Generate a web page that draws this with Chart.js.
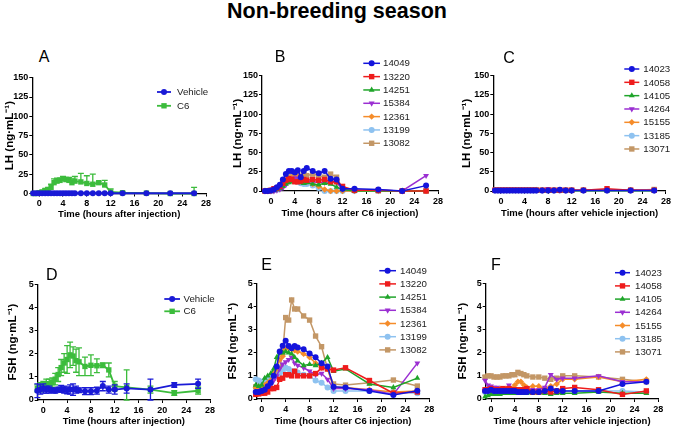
<!DOCTYPE html>
<html>
<head>
<meta charset="utf-8">
<script src="https://cdn.jsdelivr.net/npm/chart.js@4.4.1/dist/chart.umd.min.js"></script>
<style>
    body { margin: 0; background: #fff; }
    #page { position: relative; width: 673px; height: 427px; overflow: hidden; font-family: Arial, 'Liberation Sans', sans-serif; }
    #page canvas { position: absolute; left: 0; top: 0; pointer-events: none; }
    .lbl { position: absolute; transform: translate(-50%, -50%); line-height: 1; white-space: nowrap; color: #000; }
    #title { font-weight: bold; font-size: 21.5px; left: 337px; top: 12px; }
    .letter { font-size: 16px; }
</style>
</head>
<body>
<div id="page">
    <div id="title" class="lbl">Non-breeding season</div>
</div>
<script>
// sampling times (hours after injection)
const hours = [-1, -0.5, 0, 0.5, 1, 1.5, 2, 2.5, 3, 3.5, 4, 4.5, 5, 5.5, 6, 7, 8, 9, 10, 11, 12, 14, 18, 22, 26];
const xTickValues = [0, 4, 8, 12, 16, 20, 24, 28];

// A: LH group means
const lhVehicleMean = [0.3, 0.3, 0.3, 0.3, 0.3, 0.3, 0.3, 0.3, 0.3, 0.3, 0.3, 0.3, 0.3, 0.3, 0.3, 0.3, 0.3, 0.3, 0.3, 0.3, 0.3, 0.3, 0.3, 0.3, 0.3];
const lhVehicleErr  = [0.3, 0.3, 0.3, 0.3, 0.3, 0.3, 0.3, 0.3, 0.3, 0.3, 0.3, 0.3, 0.3, 0.3, 0.3, 0.3, 0.3, 0.3, 0.3, 0.3, 0.3, 0.3, 0.3, 0.3, 0.3];
const lhC6Mean = [0, 0, 1, 2, 4, 5, 8, 14, 16, 17, 19, 18, 17, 14, 16, 15, 13, 12, 14, 11, 2, 1, 0.5, 0, 0];
const lhC6Err  = [0, 0, 1, 2, 2, 3, 4, 5, 4, 3, 3, 3, 4, 5, 6, 11, 10, 13, 1, 6, 4, 1, 0.5, 0, 8];

// B: LH individual ewes, C6
const lhC6_14049 = [0, 0, 0.5, 2, 5, 8, 15, 22, 26, 26, 24, 27, 18, 26, 30, 26, 23, 26, 16, 15, 3, 3, 2, 0, 7];
const lhC6_13220 = [0, 0, 1, 3, 4, 6, 10, 14, 16, 15, 12, 12, 13, 15, 14, 15, 14, 15, 12, 12, 6, 1, 1, 0, 0];
const lhC6_14251 = [0, 0, 0, 1, 2, 4, 6, 9, 11, 12, 12, 12, 11, 10, 11, 9, 8, 10, 9, 5, 2, 0, 0, 0, 0];
const lhC6_15384 = [0, 0, 0, 0, 1, 2, 4, 8, 12, 15, 17, 16, 14, 13, 12, 12, 11, 11, 12, 11, 2, 1, 1, 0, 20];
const lhC6_12361 = [0, 0, 0, 1, 3, 6, 10, 14, 16, 17, 18, 18, 17, 15, 12, 9, 6, 2, 0, 0, 0, 0, 0, 0, 0];
const lhC6_13199 = [0, 0, 0, 1, 2, 4, 8, 12, 15, 14, 13, 12, 10, 9, 9, 7, 4, 0, 0, 0, 0, 0, 0, 0, 0];
const lhC6_13082 = [0, 0, 0, 1, 2, 5, 9, 14, 18, 19, 20, 21, 19, 22, 20, 22, 20, 18, 22, 18, 3, 1, 0, 0, 0];

// C: LH individual ewes, vehicle
const lhVeh_14023 = [0.5, 0.5, 0.5, 0.5, 0.5, 0.5, 0.5, 0.5, 0.5, 0.5, 0.5, 0.5, 0.5, 0.5, 0.5, 0.5, 0.5, 0.5, 1.5, 0.5, 0.5, 0.5, 0.5, 0.5, 0.5];
const lhVeh_14058 = [1, 1, 1, 1, 1, 1, 1, 1, 1, 1, 1, 1, 1, 1, 1, 1, 1, 1, 1, 1, 1, 1, 3, 1, 1];
const lhVeh_14105 = [0.3, 0.3, 0.3, 0.3, 0.3, 0.3, 0.3, 0.3, 0.3, 0.3, 0.3, 0.3, 0.3, 0.3, 0.3, 0.3, 0.3, 0.3, 0.3, 0.3, 0.3, 0.3, 0.3, 0.3, 0.3];
const lhVeh_14264 = [1, 1, 1, 1, 1, 1, 1.5, 1, 1, 1, 1, 1, 1, 1, 1, 1, 3, 1, 1, 1, 1, 1, 1, 1, 1];
const lhVeh_15155 = [1, 1, 1, 1, 1, 1, 1, 1, 1, 1, 1, 1, 1, 1, 1.5, 1, 1, 1, 1, 1, 1, 1, 1, 1, 1];
const lhVeh_13185 = [0.5, 0.5, 0.5, 0.5, 0.5, 0.5, 0.5, 0.5, 0.5, 0.5, 0.5, 0.5, 0.5, 0.5, 0.5, 0.5, 0.5, 0.5, 0.5, 0.5, 0.5, 0.5, 0.5, 0.5, 0.5];
const lhVeh_13071 = [1, 1, 1, 1, 1, 1, 1, 1, 1, 1, 1, 1, 1, 1, 1.5, 1, 1, 1, 1, 1, 1, 1, 1, 1, 2];

// D: FSH group means
const fshVehicleMean = [0.4, 0.45, 0.5, 0.45, 0.45, 0.42, 0.4, 0.45, 0.48, 0.45, 0.42, 0.45, 0.45, 0.45, 0.42, 0.38, 0.38, 0.4, 0.6, 0.45, 0.45, 0.5, 0.45, 0.65, 0.7];
const fshVehicleErr  = [0.3, 0.2, 0.2, 0.15, 0.15, 0.1, 0.1, 0.1, 0.15, 0.15, 0.15, 0.2, 0.25, 0.15, 0.1, 0.15, 0.15, 0.15, 0.2, 0.15, 0.2, 0.2, 0.45, 0.1, 0.2];
const fshC6Mean = [0.5, 0.55, 0.6, 0.7, 0.7, 0.75, 0.9, 1.1, 1.4, 1.6, 1.75, 1.95, 1.9, 1.7, 1.65, 1.45, 1.5, 1.48, 1.5, 1.3, 0.6, 0.55, 0.45, 0.3, 0.4];
const fshC6Err  = [0.15, 0.2, 0.2, 0.2, 0.2, 0.2, 0.25, 0.3, 0.35, 0.4, 0.6, 0.55, 0.4, 0.5, 0.6, 0.4, 0.45, 0.3, 0.1, 0.3, 0.2, 0.75, 0.15, 0.1, 0.15];

// E: FSH individual ewes, C6
const fshC6_14049 = [0.3, 0.3, 0.35, 0.4, 0.55, 0.7, 1.0, 1.4, 2.05, 2.3, 2.52, 2.29, 2.19, 2.29, 2.23, 2.15, 1.97, 1.8, 1.54, 1.4, 0.53, 0.5, 0.35, 0.17, 0.36];
const fshC6_13220 = [0.2, 0.22, 0.25, 0.25, 0.3, 0.45, 0.45, 0.5, 0.85, 0.9, 1.05, 1.05, 1.0, 1.2, 1.0, 1.0, 1.0, 1.1, 1.35, 1.3, 1.25, 1.35, 0.8, 0.25, 0.3];
const fshC6_14251 = [0.6, 0.55, 0.6, 0.9, 1.0, 1.1, 1.3, 1.8, 2.0, 2.0, 2.05, 2.0, 1.95, 1.8, 1.65, 1.45, 1.5, 1.45, 1.55, 1.8, 1.2, 1.3, 0.65, 0.5, 0.9];
const fshC6_15384 = [0.3, 0.35, 0.4, 0.4, 0.5, 0.6, 0.8, 1.0, 1.3, 1.5, 1.6, 1.7, 1.8, 1.55, 1.45, 1.35, 1.2, 1.05, 1.1, 0.85, 0.45, 0.45, 0.4, 0.2, 1.55];
const fshC6_12361 = [0.5, 0.5, 0.55, 0.6, 0.7, 0.8, 1.1, 1.3, 1.7, 1.85, 2.15, 2.25, 2.15, 2.1, 2.05, 1.95, 1.8, 1.55, 1.35, 1.3, 0.5, 0.5, 0.4, 0.3, 0.35];
const fshC6_13199 = [0.85, 0.8, 0.75, 0.8, 0.85, 0.9, 0.95, 1.0, 1.1, 1.2, 1.35, 1.3, 1.2, 1.2, 1.15, 1.05, 1.0, 0.8, 0.7, 0.5, 0.35, 0.35, 0.35, 0.3, 0.25];
const fshC6_13082 = [0.53, 0.5, 0.5, 0.55, 0.6, 0.7, 0.9, 1.2, 1.3, 2.0, 3.52, 3.41, 4.28, 3.89, 3.89, 3.59, 3.41, 2.72, 2.26, 1.3, 0.65, 0.6, 0.7, 0.82, 0.56];

// F: FSH individual ewes, vehicle
const fshVeh_14023 = [0.35, 0.35, 0.4, 0.35, 0.35, 0.35, 0.35, 0.35, 0.35, 0.35, 0.35, 0.3, 0.3, 0.3, 0.3, 0.3, 0.3, 0.35, 0.45, 0.35, 0.35, 0.35, 0.35, 0.65, 0.75];
const fshVeh_14058 = [0.4, 0.4, 0.45, 0.4, 0.4, 0.4, 0.45, 0.4, 0.45, 0.4, 0.4, 0.4, 0.4, 0.4, 0.45, 0.3, 0.3, 0.35, 0.3, 0.35, 0.45, 0.5, 0.4, 0.2, 0.35];
const fshVeh_14105 = [0.1, 0.15, 0.2, 0.2, 0.2, 0.2, 0.25, 0.25, 0.25, 0.25, 0.25, 0.3, 0.25, 0.25, 0.25, 0.25, 0.25, 0.25, 0.2, 0.25, 0.25, 0.25, 0.3, 0.25, 0.25];
const fshVeh_14264 = [0.8, 0.6, 0.55, 0.5, 0.5, 0.45, 0.45, 0.45, 0.6, 0.45, 0.4, 0.4, 0.4, 0.4, 0.4, 0.4, 0.4, 0.5, 1.05, 0.85, 0.9, 0.9, 1.0, 0.75, 0.75];
const fshVeh_15155 = [0.4, 0.4, 0.4, 0.4, 0.4, 0.45, 0.4, 0.45, 0.45, 0.45, 0.6, 0.75, 0.75, 0.6, 0.5, 0.55, 0.55, 0.45, 0.55, 0.65, 0.85, 0.85, 0.95, 0.75, 0.85];
const fshVeh_13185 = [0.3, 0.3, 0.3, 0.3, 0.3, 0.3, 0.3, 0.3, 0.3, 0.3, 0.3, 0.3, 0.3, 0.3, 0.3, 0.3, 0.3, 0.35, 0.4, 0.35, 0.35, 0.35, 0.35, 0.35, 0.3];
const fshVeh_13071 = [0.95, 1.0, 1.0, 0.95, 0.95, 0.95, 1.0, 1.0, 1.0, 1.05, 1.05, 1.15, 1.1, 1.05, 1.0, 0.95, 0.95, 0.9, 0.85, 0.9, 1.0, 1.0, 0.95, 0.85, 0.75];

// styles
const FONT = "Arial, 'Liberation Sans', sans-serif";
const indivColors = ['#1414dc', '#ee1c1c', '#1fa52a', '#9b2fd2', '#f58c2a', '#8ec2f0', '#c39766'];
const indivMarkers = ['circle', 'rect', 'triangle', 'triangle', 'rectRot', 'circle', 'rect'];
const indivRotation = [0, 0, 0, 180, 0, 0, 0];
const markerRadius = { circle: 3, rect: 3.8, triangle: 3.4, rectRot: 3.2 };
const blueMean = '#1a1ad6';
const greenMean = '#3cbc3c';

function indiv(labels, arrays) {
    return labels.map((label, i) => ({
        label, values: arrays[i], color: indivColors[i], marker: indivMarkers[i], rotation: indivRotation[i]
    }));
}

const panels = [
    {
        letter: 'A', lx: 44, ly: 57, yTitle: 'LH (ng·mL⁻¹)', xTitle: 'Time (hours after injection)',
        yMax: 150, yStep: 25, xMin: -1.15, area: { L: 32.3, R: 206, T: 77.7, B: 193.5 }, yTitleX: 10, xTitleY: 214,
        errDir: 'up', lineWidth: 1.8, legend: { x: 157, y: 92, dy: 13.8, len: 14, gap: 6 },
        series: [
            { label: 'Vehicle', values: lhVehicleMean, errors: lhVehicleErr, color: blueMean, marker: 'circle' },
            { label: 'C6', values: lhC6Mean, errors: lhC6Err, color: greenMean, marker: 'rect' }
        ]
    },
    {
        letter: 'B', lx: 280, ly: 57, yTitle: 'LH (ng·mL⁻¹)', xTitle: 'Time (hours after C6 injection)',
        yMax: 150, yStep: 25, xMin: -1.5, area: { L: 262, R: 438, T: 75.7, B: 191 }, yTitleX: 238.3, xTitleY: 213.3,
        legend: { x: 363.3, y: 63.3, dy: 13.33, len: 16.7, gap: 3 },
        series: indiv(['14049', '13220', '14251', '15384', '12361', '13199', '13082'],
            [lhC6_14049, lhC6_13220, lhC6_14251, lhC6_15384, lhC6_12361, lhC6_13199, lhC6_13082])
    },
    {
        letter: 'C', lx: 509, ly: 58, yTitle: 'LH (ng·mL⁻¹)', xTitle: 'Time (hours after vehicle injection)',
        yMax: 150, yStep: 25, xMin: -1.29, area: { L: 493.3, R: 668, T: 75.7, B: 191 }, yTitleX: 466.7, xTitleY: 213.3,
        legend: { x: 624.3, y: 69, dy: 13.33, len: 15, gap: 4 },
        series: indiv(['14023', '14058', '14105', '14264', '15155', '13185', '13071'],
            [lhVeh_14023, lhVeh_14058, lhVeh_14105, lhVeh_14264, lhVeh_15155, lhVeh_13185, lhVeh_13071])
    },
    {
        letter: 'D', lx: 51.7, ly: 275, yTitle: 'FSH (ng·mL⁻¹)', xTitle: 'Time (hours after injection)',
        yMax: 5, yStep: 1, xMin: -0.94, area: { L: 37.7, R: 210, T: 284.3, B: 400 }, yTitleX: 13.3, xTitleY: 421,
        errDir: 'both', lineWidth: 1.8, legend: { x: 164.3, y: 299, dy: 12.3, len: 15.7, gap: 3.5 },
        series: [
            { label: 'Vehicle', values: fshVehicleMean, errors: fshVehicleErr, color: blueMean, marker: 'circle' },
            { label: 'C6', values: fshC6Mean, errors: fshC6Err, color: greenMean, marker: 'rect' }
        ]
    },
    {
        letter: 'E', lx: 266.7, ly: 265, yTitle: 'FSH (ng·mL⁻¹)', xTitle: 'Time (hours after C6 injection)',
        yMax: 5, yStep: 1, xMin: -0.84, area: { L: 256.7, R: 429.3, T: 283.3, B: 399 }, yTitleX: 233.3, xTitleY: 421.7,
        legend: { x: 379.3, y: 270.7, dy: 13.2, len: 16.7, gap: 4 },
        series: indiv(['14049', '13220', '14251', '15384', '12361', '13199', '13082'],
            [fshC6_14049, fshC6_13220, fshC6_14251, fshC6_15384, fshC6_12361, fshC6_13199, fshC6_13082])
    },
    {
        letter: 'F', lx: 496, ly: 265, yTitle: 'FSH (ng·mL⁻¹)', xTitle: 'Time (hours after vehicle injection)',
        yMax: 5, yStep: 1, xMin: -0.89, area: { L: 485.7, R: 658.3, T: 283.3, B: 399 }, yTitleX: 463.3, xTitleY: 421.7,
        legend: { x: 615, y: 272.7, dy: 13.2, len: 15, gap: 5 },
        series: indiv(['14023', '14058', '14105', '14264', '15155', '13185', '13071'],
            [fshVeh_14023, fshVeh_14058, fshVeh_14105, fshVeh_14264, fshVeh_15155, fshVeh_13185, fshVeh_13071])
    }
];

// error bars (SEM) drawn right after each dataset
const errorBars = {
    id: 'errorBars',
    afterDatasetDraw(chart, args) {
        const ds = chart.data.datasets[args.index];
        if (!ds.errors) return;
        const yScale = chart.scales.y;
        const ctx = chart.ctx;
        ctx.save();
        ctx.strokeStyle = ds.borderColor;
        ctx.lineWidth = 1.3;
        args.meta.data.forEach((pt, i) => {
            const e = ds.errors[i];
            if (!e) return;
            const v = ds.data[i].y;
            const top = yScale.getPixelForValue(v + e);
            const bottom = ds.errDir === 'both' ? yScale.getPixelForValue(Math.max(v - e, 0)) : pt.y;
            ctx.beginPath();
            ctx.moveTo(pt.x, top); ctx.lineTo(pt.x, bottom);
            ctx.moveTo(pt.x - 3, top); ctx.lineTo(pt.x + 3, top);
            if (ds.errDir === 'both') { ctx.moveTo(pt.x - 3, bottom); ctx.lineTo(pt.x + 3, bottom); }
            ctx.stroke();
        });
        ctx.restore();
    }
};

// GraphPad-like legend placed by hand inside the panel
const panelLegend = {
    id: 'panelLegend',
    afterDraw(chart, args, opts) {
        if (!opts || opts.x === undefined) return;
        const ctx = chart.ctx;
        chart.data.datasets.forEach((ds, i) => {
            const y = opts.y + i * opts.dy;
            ctx.save();
            ctx.strokeStyle = ds.borderColor;
            ctx.fillStyle = ds.borderColor;
            ctx.lineWidth = ds.borderWidth;
            ctx.beginPath();
            ctx.moveTo(opts.x, y);
            ctx.lineTo(opts.x + opts.len, y);
            ctx.stroke();
            const mx = opts.x + opts.len / 2;
            if (Chart.helpers && Chart.helpers.drawPoint) {
                Chart.helpers.drawPoint(ctx, { pointStyle: ds.pointStyle, radius: ds.pointRadius, borderWidth: 0, rotation: ds.pointRotation }, mx, y);
            } else {
                ctx.beginPath(); ctx.arc(mx, y, ds.pointRadius, 0, Math.PI * 2); ctx.fill();
            }
            ctx.fillStyle = '#222';
            ctx.font = '9.7px ' + FONT;
            ctx.textBaseline = 'middle';
            ctx.fillText(ds.label, opts.x + opts.len + opts.gap, y + 0.5);
            ctx.restore();
        });
    }
};

Chart.defaults.font.family = FONT;
Chart.defaults.color = '#000';

const page = document.getElementById('page');
const TICK_FONT = { size: 9, weight: 'bold' };
const TITLE_Y_FONT = { size: 11.5, weight: 'bold' };
const TITLE_X_FONT = { size: 9.5, weight: 'bold' };

panels.forEach(p => {
    const letter = document.createElement('div');
    letter.className = 'lbl letter';
    letter.style.left = p.lx + 'px';
    letter.style.top = p.ly + 'px';
    letter.textContent = p.letter;
    page.appendChild(letter);

    const cv = document.createElement('canvas');
    cv.width = 673; cv.height = 427;
    page.appendChild(cv);

    const yW = p.area.L - p.yTitleX + TITLE_Y_FONT.size * 1.2 / 2;
    const xH = p.xTitleY + TITLE_X_FONT.size * 1.2 / 2 - p.area.B;

    const datasets = p.series.map(s => ({
        label: s.label,
        data: s.values.map((v, i) => ({ x: hours[i], y: v })),
        errors: s.errors,
        errDir: p.errDir,
        borderColor: s.color,
        backgroundColor: s.color,
        pointBackgroundColor: s.color,
        pointBorderColor: s.color,
        pointStyle: s.marker,
        pointRotation: s.rotation || 0,
        pointRadius: markerRadius[s.marker],
        pointBorderWidth: 0,
        borderWidth: p.lineWidth || 1.5,
        tension: 0,
        clip: false
    }));

    new Chart(cv, {
        type: 'line',
        data: { datasets },
        options: {
            responsive: false,
            animation: false,
            devicePixelRatio: 1,
            events: [],
            layout: {
                padding: { left: p.area.L - yW, right: 673 - p.area.R, top: p.area.T, bottom: 427 - p.area.B - xH }
            },
            plugins: {
                legend: { display: false },
                tooltip: { enabled: false },
                panelLegend: p.legend
            },
            scales: {
                x: {
                    type: 'linear',
                    min: p.xMin,
                    max: 28,
                    afterBuildTicks: s => { s.ticks = xTickValues.map(v => ({ value: v })); },
                    afterFit: s => { s.height = xH; },
                    ticks: { font: TICK_FONT, padding: 2, autoSkip: false, maxRotation: 0 },
                    grid: { drawOnChartArea: false, drawTicks: true, tickLength: 3, color: '#000', lineWidth: 1 },
                    border: { display: true, color: '#000', width: 1.3 },
                    title: { display: true, text: p.xTitle, font: TITLE_X_FONT, padding: 0, color: '#000' }
                },
                y: {
                    type: 'linear',
                    min: 0,
                    max: p.yMax,
                    afterFit: s => { s.width = yW; },
                    ticks: { stepSize: p.yStep, font: TICK_FONT, padding: 1 },
                    grid: { drawOnChartArea: false, drawTicks: true, tickLength: 3, color: '#000', lineWidth: 1 },
                    border: { display: true, color: '#000', width: 1.3 },
                    title: { display: true, text: p.yTitle, font: TITLE_Y_FONT, padding: 0, color: '#000' }
                }
            }
        },
        plugins: [errorBars, panelLegend]
    });
});
</script>
</body>
</html>
